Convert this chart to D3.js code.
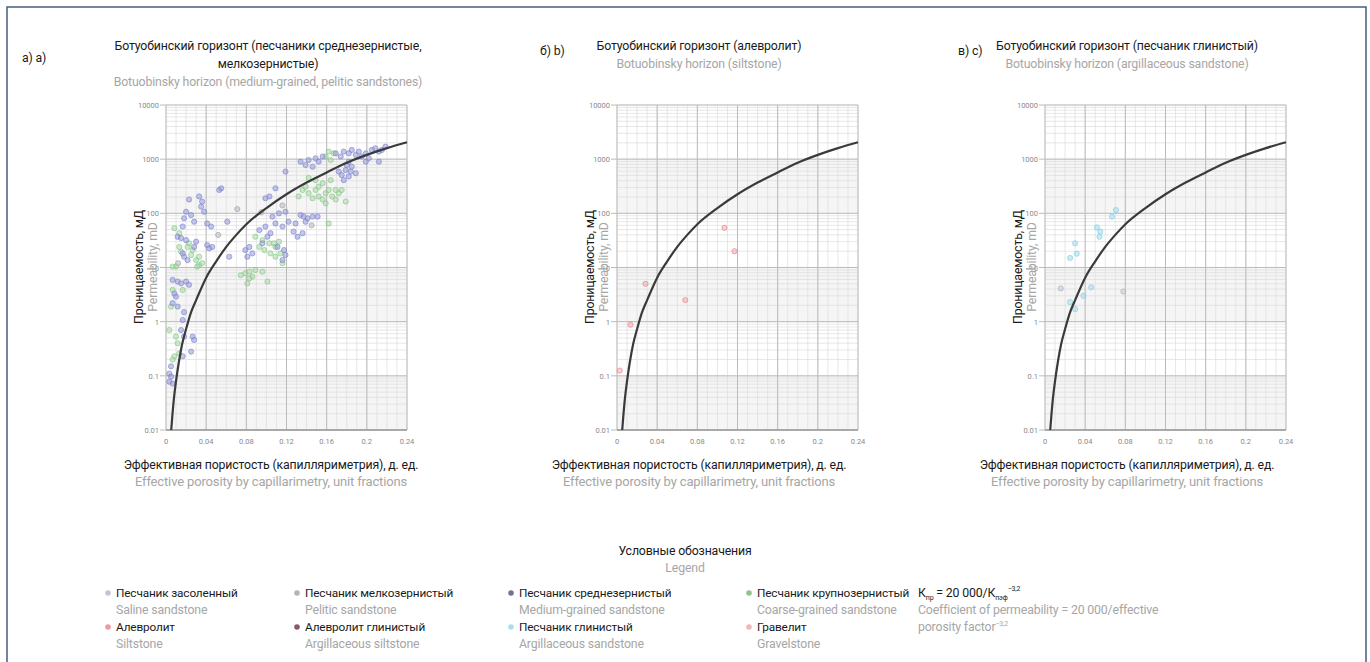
<!DOCTYPE html>
<html>
<head>
<meta charset="utf-8">
<script src="https://d3js.org/d3.v7.min.js"></script>
<style>
  body { margin: 0; background: #fff; }
  svg { display: block; font-family: Roboto, "Noto Sans", sans-serif; }
  .ru { fill: #1a1a1a; font-size: 12.3px; letter-spacing: -0.15px; }
  .en { fill: #a6a6a6; font-size: 12.3px; letter-spacing: -0.15px; }
  .axen { font-size: 13px; }
  .legru { font-size: 11.8px; }
  .tick { fill: #8a8a8a; font-size: 7.5px; }
</style>
</head>
<body>
<div id="chart"></div>
<script>
// Canvas
var svgWidth = 1370;
var svgHeight = 662;

// Axis values
var xTicks = [0, 0.04, 0.08, 0.12, 0.16, 0.2, 0.24];
var xTickLabels = ["0", "0.04", "0.08", "0.12", "0.16", "0.2", "0.24"];
var yTicks = [0.01, 0.1, 1, 10, 100, 1000, 10000];
var yTickLabels = ["0.01", "0.1", "1", "10", "100", "1000", "10000"];

// Trend line K = f(porosity)
var trendLine = [
  [0.0052, 0.01], [0.0065, 0.02], [0.008, 0.04], [0.01, 0.08], [0.013, 0.19],
  [0.016, 0.38], [0.02, 0.73], [0.025, 1.5], [0.03, 2.5], [0.04, 6.5],
  [0.05, 13], [0.06, 24], [0.07, 40], [0.08, 63], [0.1, 125], [0.12, 225],
  [0.14, 370], [0.16, 570], [0.18, 860], [0.2, 1200], [0.22, 1600], [0.24, 2050]
];

// Panel a: medium-grained sandstone [porosity, permeability]
var mediumSand = [
  [0.134, 900], [0.139, 780], [0.142, 965], [0.146, 725], [0.149, 1040], [0.152, 900],
  [0.156, 1120], [0.169, 1280], [0.174, 1120], [0.177, 1380], [0.182, 1280], [0.185, 1480],
  [0.189, 1200], [0.192, 1380], [0.195, 1120], [0.199, 1280], [0.202, 1040], [0.205, 1480],
  [0.2085, 1590], [0.212, 1380], [0.215, 1480], [0.2185, 1700], [0.212, 900], [0.199, 900],
  [0.182, 900], [0.185, 725], [0.179, 630], [0.175, 510], [0.182, 480], [0.189, 550],
  [0.172, 590], [0.18, 780], [0.184, 590], [0.177, 410],
  [0.134, 93], [0.137, 87], [0.141, 81], [0.139, 70], [0.146, 87], [0.151, 87],
  [0.129, 65], [0.136, 43], [0.131, 37], [0.119, 590], [0.109, 290], [0.099, 190], [0.103, 205],
  [0.079, 21], [0.083, 24], [0.081, 15.8], [0.086, 18.2], [0.096, 28], [0.093, 49],
  [0.099, 57], [0.104, 43], [0.109, 65], [0.116, 57], [0.1175, 21], [0.119, 17],
  [0.116, 13.7], [0.111, 24], [0.101, 37], [0.106, 87], [0.1125, 100], [0.119, 107],
  [0.122, 70], [0.127, 46],
  [0.023, 180], [0.033, 205], [0.036, 165], [0.035, 133], [0.038, 107], [0.02, 107],
  [0.025, 93], [0.018, 81], [0.028, 70], [0.0166, 57], [0.041, 65], [0.045, 57],
  [0.0116, 37], [0.015, 35], [0.02, 32], [0.041, 26], [0.043, 22.6], [0.046, 24],
  [0.018, 15.8], [0.0215, 13.7], [0.0166, 18.2], [0.028, 24], [0.03, 30], [0.053, 270],
  [0.055, 290], [0.061, 70], [0.063, 15.8],
  [0.0066, 5.9], [0.0116, 5.5], [0.015, 5.1], [0.02, 5.5], [0.023, 4.8], [0.0083, 3.3],
  [0.0099, 2.9], [0.0066, 2.2], [0.0116, 1.9], [0.018, 1.5], [0.0166, 1.07], [0.015, 0.7],
  [0.018, 0.53], [0.0265, 0.53], [0.028, 0.46], [0.025, 0.28], [0.0166, 0.23], [0.0033, 0.11],
  [0.005, 0.097], [0.0033, 0.078], [0.0066, 0.072], [0.005, 0.15]
];

// Panel a: coarse-grained sandstone
var coarseSand = [
  [0.167, 1280], [0.162, 1380], [0.159, 1120], [0.164, 965],
  [0.132, 205], [0.136, 270], [0.139, 310], [0.142, 235], [0.146, 190], [0.149, 270],
  [0.152, 205], [0.156, 180], [0.159, 235], [0.162, 270], [0.1655, 205], [0.169, 180],
  [0.172, 235], [0.175, 270], [0.179, 165], [0.149, 410], [0.156, 360], [0.164, 410],
  [0.142, 450], [0.152, 310], [0.159, 153], [0.169, 270], [0.162, 65],
  [0.089, 37], [0.096, 32], [0.103, 28], [0.1076, 28], [0.1125, 30], [0.109, 24],
  [0.114, 18.2], [0.093, 24], [0.098, 21], [0.104, 18.2], [0.109, 15.8], [0.116, 12],
  [0.0745, 7.2], [0.079, 7.8], [0.083, 8.4], [0.086, 6.8], [0.081, 5.1], [0.089, 9],
  [0.096, 8.4], [0.101, 5.5], [0.083, 6.3],
  [0.0083, 53], [0.0132, 43], [0.023, 28], [0.0265, 21], [0.03, 13.7], [0.033, 15.8],
  [0.025, 17], [0.0215, 24], [0.015, 19.6], [0.0099, 10.4], [0.0066, 10.4], [0.0132, 24],
  [0.033, 11], [0.036, 12], [0.031, 10.4],
  [0.005, 1.9], [0.0033, 0.7], [0.0099, 0.53], [0.0116, 0.4], [0.0083, 0.23], [0.0066, 0.2],
  [0.0132, 0.26], [0.0066, 3.85], [0.0166, 3.85]
];

// Panel a: pelitic sandstone
var peliticSand = [
  [0.071, 120], [0.116, 140], [0.052, 40], [0.095, 105], [0.145, 60], [0.012, 12]
];

// Panel b: siltstone
var siltstone = [
  [0.107, 54], [0.117, 20], [0.0284, 5.0], [0.068, 2.5], [0.0134, 0.88], [0.0027, 0.125]
];

// Panel c: argillaceous sandstone and a few grey points
var argSand = [
  [0.0707, 115], [0.0667, 87], [0.0517, 55], [0.055, 46], [0.0543, 37], [0.03, 28],
  [0.0317, 18], [0.025, 15], [0.046, 4.3], [0.0383, 3.0], [0.025, 2.3], [0.03, 1.7]
];
var salineSand = [[0.078, 3.6], [0.0157, 4.1]];

// Legend entries
var legendRu = ["Песчаник засоленный", "Песчаник мелкозернистый", "Песчаник среднезернистый", "Песчаник крупнозернистый",
  "Алевролит", "Алевролит глинистый", "Песчаник глинистый", "Гравелит"];
var legendEn = ["Saline sandstone", "Pelitic sandstone", "Medium-grained sandstone", "Coarse-grained sandstone",
  "Siltstone", "Argillaceous siltstone", "Argillaceous sandstone", "Gravelstone"];
var legendColors = ["#c3c7d3", "#b3b3be", "#6f7490", "#8ec58e", "#ee9a9a", "#8c5670", "#a9dfe6", "#f2b7b7"];

var styles = {
  saline: { fill: "#c3c7d3", stroke: "#a8adbd" },
  pelitic: { fill: "#b6b6c2", stroke: "#9d9daa" },
  medium: { fill: "#959bd8", stroke: "#7980c8" },
  coarse: { fill: "#a8d8a6", stroke: "#82c280" },
  silt: { fill: "#f3a9b0", stroke: "#e27a88" },
  argSand: { fill: "#a2dcec", stroke: "#7ccbe0" }
};

var panels = [
  { left: 166, titleX: 268, axisX: 271, label: "а) а)", labelX: 22, labelY: 62,
    titleRu: ["Ботуобинский горизонт (песчаники среднезернистые,", "мелкозернистые)"],
    titleEn: "Botuobinsky horizon (medium-grained, pelitic sandstones)",
    series: [["pelitic", peliticSand], ["coarse", coarseSand], ["medium", mediumSand]] },
  { left: 617, titleX: 699, axisX: 699, label: "б) b)", labelX: 540, labelY: 55,
    titleRu: ["Ботуобинский горизонт (алевролит)"],
    titleEn: "Botuobinsky horizon (siltstone)",
    series: [["silt", siltstone]] },
  { left: 1045, titleX: 1127, axisX: 1127, label: "в) c)", labelX: 958, labelY: 55,
    titleRu: ["Ботуобинский горизонт (песчаник глинистый)"],
    titleEn: "Botuobinsky horizon (argillaceous sandstone)",
    series: [["saline", salineSand], ["argSand", argSand]] }
];

var plotW = 241, plotTop = 105, plotBottom = 430;

var svg = d3.select("#chart").append("svg")
  .attr("width", svgWidth)
  .attr("height", svgHeight);

// Frame
svg.append("rect")
  .attr("x", 7).attr("y", 7)
  .attr("width", 1359).attr("height", 700)
  .attr("fill", "none")
  .attr("stroke", "#455c7e")
  .attr("stroke-width", 1.5);

panels.forEach(function(p) {
  var x = d3.scaleLinear().domain([0, 0.24]).range([p.left, p.left + plotW]);
  var y = d3.scaleLog().domain([0.01, 10000]).range([plotBottom, plotTop]);
  var g = svg.append("g");

  // shaded decades
  [[0.01, 0.1], [1, 10], [100, 1000]].forEach(function(b) {
    g.append("rect")
      .attr("x", x(0)).attr("width", plotW)
      .attr("y", y(b[1])).attr("height", y(b[0]) - y(b[1]))
      .attr("fill", "#f5f5f5");
  });

  // minor grid
  g.selectAll(".minx").data(d3.range(0, 25).map(function(i) { return i / 100; }))
    .enter().append("line")
    .attr("x1", function(d) { return x(d); }).attr("x2", function(d) { return x(d); })
    .attr("y1", plotTop).attr("y2", plotBottom)
    .attr("stroke", "#dcdcdc").attr("stroke-width", 0.7);
  g.selectAll(".miny").data(y.ticks())
    .enter().append("line")
    .attr("x1", x(0)).attr("x2", x(0.24))
    .attr("y1", function(d) { return y(d); }).attr("y2", function(d) { return y(d); })
    .attr("stroke", "#dcdcdc").attr("stroke-width", 0.7);

  // major grid
  g.selectAll(".majx").data(xTicks)
    .enter().append("line")
    .attr("x1", function(d) { return x(d); }).attr("x2", function(d) { return x(d); })
    .attr("y1", plotTop).attr("y2", plotBottom)
    .attr("stroke", "#bcbcbc").attr("stroke-width", 1);
  g.selectAll(".majy").data(yTicks)
    .enter().append("line")
    .attr("x1", x(0) - 6).attr("x2", x(0.24))
    .attr("y1", function(d) { return y(d); }).attr("y2", function(d) { return y(d); })
    .attr("stroke", "#bcbcbc").attr("stroke-width", 1);
  g.append("line")
    .attr("x1", x(0)).attr("x2", x(0.24))
    .attr("y1", plotBottom).attr("y2", plotBottom)
    .attr("stroke", "#9a9a9a").attr("stroke-width", 1.5);

  // tick labels
  g.selectAll(".xt").data(xTicks)
    .enter().append("text")
    .attr("class", "tick")
    .attr("x", function(d) { return x(d); })
    .attr("y", plotBottom + 14)
    .attr("text-anchor", "middle")
    .text(function(d, i) { return xTickLabels[i]; });
  g.selectAll(".yt").data(yTicks)
    .enter().append("text")
    .attr("class", "tick")
    .attr("x", x(0) - 7)
    .attr("y", function(d) { return y(d) + 3; })
    .attr("text-anchor", "end")
    .text(function(d, i) { return yTickLabels[i]; });

  // points
  p.series.forEach(function(s) {
    var st = styles[s[0]];
    g.selectAll(".pt-" + s[0]).data(s[1])
      .enter().append("circle")
      .attr("cx", function(d) { return x(d[0]); })
      .attr("cy", function(d) { return y(d[1]); })
      .attr("r", 2.6)
      .attr("fill", st.fill).attr("fill-opacity", 0.55)
      .attr("stroke", st.stroke).attr("stroke-opacity", 0.75)
      .attr("stroke-width", 0.8);
  });

  // trend line
  var line = d3.line()
    .x(function(d) { return x(d[0]); })
    .y(function(d) { return y(d[1]); })
    .curve(d3.curveMonotoneX);
  g.append("path")
    .datum(trendLine)
    .attr("d", line)
    .attr("fill", "none")
    .attr("stroke", "#3a3a3a")
    .attr("stroke-width", 2.2);

  // titles
  var ty = 50;
  p.titleRu.forEach(function(t) {
    svg.append("text").attr("class", "ru")
      .attr("x", p.titleX).attr("y", ty).attr("text-anchor", "middle").text(t);
    ty += 18;
  });
  svg.append("text").attr("class", "en")
    .attr("x", p.titleX).attr("y", ty).attr("text-anchor", "middle").text(p.titleEn);

  svg.append("text").attr("class", "ru")
    .attr("x", p.labelX).attr("y", p.labelY).text(p.label);

  // axis titles
  svg.append("text").attr("class", "ru")
    .attr("x", p.axisX).attr("y", 469).attr("text-anchor", "middle")
    .text("Эффективная пористость (капилляриметрия), д. ед.");
  svg.append("text").attr("class", "en axen")
    .attr("x", p.axisX).attr("y", 486).attr("text-anchor", "middle")
    .text("Effective porosity by capillarimetry, unit fractions");

  svg.append("text").attr("class", "ru")
    .attr("transform", "translate(" + (p.left - 23) + "," + 267 + ")rotate(-90)")
    .attr("text-anchor", "middle")
    .text("Проницаемость, мД");
  svg.append("text").attr("class", "en")
    .attr("transform", "translate(" + (p.left - 9) + "," + 267 + ")rotate(-90)")
    .attr("text-anchor", "middle")
    .text("Permeability, mD");
});

// Legend
svg.append("text").attr("class", "ru")
  .attr("x", 685).attr("y", 555).attr("text-anchor", "middle").text("Условные обозначения");
svg.append("text").attr("class", "en")
  .attr("x", 685).attr("y", 572).attr("text-anchor", "middle").text("Legend");

var colX = [116, 305, 519, 757];
var rowY = [597, 631];
legendRu.forEach(function(t, i) {
  var cx = colX[i % 4], ry = rowY[Math.floor(i / 4)];
  svg.append("circle")
    .attr("cx", cx - 8).attr("cy", ry - 4).attr("r", 2.8)
    .attr("fill", legendColors[i]);
  svg.append("text").attr("class", "ru legru").attr("x", cx).attr("y", ry).text(t);
  svg.append("text").attr("class", "en").attr("x", cx).attr("y", ry + 17).text(legendEn[i]);
});

// Formula
var f = svg.append("text").attr("class", "ru").attr("x", 918).attr("y", 597);
f.append("tspan").text("К");
f.append("tspan").attr("font-size", "7px").attr("dy", 3).text("пр");
f.append("tspan").attr("dy", -3).text(" = 20 000/К");
f.append("tspan").attr("font-size", "7px").attr("dy", 3).text("пэф");
f.append("tspan").attr("font-size", "7px").attr("dy", -9).text("−3,2");
svg.append("text").attr("class", "en").attr("x", 918).attr("y", 614)
  .text("Coefficient of permeability = 20 000/effective");
var f2 = svg.append("text").attr("class", "en").attr("x", 918).attr("y", 631);
f2.append("tspan").text("porosity factor");
f2.append("tspan").attr("font-size", "7px").attr("dy", -5).text("−3,2");
</script>
</body>
</html>
